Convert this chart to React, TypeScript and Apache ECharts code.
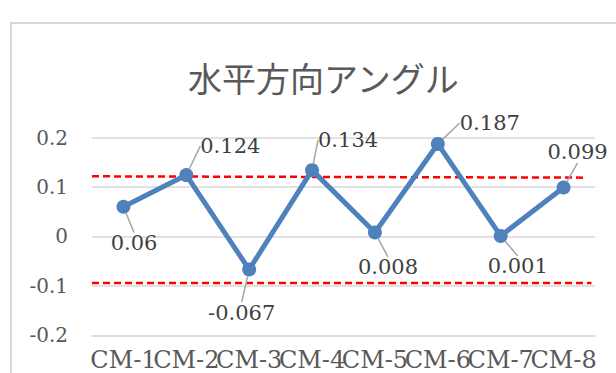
import React, { useEffect, useRef } from "react";
import * as echarts from "echarts";

const categories = ["CM-1", "CM-2", "CM-3", "CM-4", "CM-5", "CM-6", "CM-7", "CM-8"];
const values = [0.06, 0.124, -0.067, 0.134, 0.008, 0.187, 0.001, 0.099];
const upperLimit: [number, number][] = [[0, 0.1215], [0.984, 0.1188]];
const lowerLimit: [number, number][] = [[0, -0.094], [0.993, -0.094]];
const yTicks = { min: -0.2, max: 0.2, interval: 0.1 };
const titleText = "水平方向アングル";

// label offsets (style) relative to each point
const labelDx = [10.6, 44, -7.5, 36, 13, 52, 17, 14];
const labelDy = [36.3, -29, 43, -30, 35, -21, 30.5, -35];

export default function App() {
  const ref = useRef<HTMLDivElement>(null);
  useEffect(() => {
    if (!ref.current) return;
    const chart = echarts.init(ref.current, undefined, { renderer: "svg" });
    const serif = "DejaVu Serif";
    chart.setOption({
      animation: false,
      backgroundColor: "#ffffff",
      title: {
        text: titleText,
        left: 183,
        top: 55,
        textStyle: {
          fontFamily: "Noto Sans CJK JP",
          fontSize: 34,
          fontWeight: "normal",
          color: "#595959",
        },
      },
      graphic: [
        {
          type: "rect",
          shape: { x: 11, y: 23, width: 800, height: 500 },
          style: { fill: "none", stroke: "#d9d9d9", lineWidth: 2 },
          silent: true,
        },
      ],
      grid: { left: 92, right: 21, top: 137.5, bottom: 37.7 },
      xAxis: [
        {
          type: "category",
          data: categories,
          position: "bottom",
          axisLine: { show: true, onZero: false, lineStyle: { color: "#d9d9d9", width: 1.5 } },
          axisTick: { show: false },
          axisLabel: {
            interval: 0,
            margin: 13,
            fontFamily: serif,
            fontSize: 24,
            color: "#595959",
          },
        },
        {
          type: "value",
          min: 0,
          max: 1,
          show: false,
        },
      ],
      yAxis: {
        type: "value",
        min: yTicks.min,
        max: yTicks.max,
        interval: yTicks.interval,
        axisLine: { show: false },
        axisTick: { show: false },
        splitLine: { lineStyle: { color: "#d9d9d9", width: 1.5 } },
        axisLabel: {
          margin: 24,
          fontFamily: serif,
          fontSize: 20,
          color: "#595959",
          formatter: (v: number) => (Math.abs(v) < 1e-9 ? "0" : String(Math.round(v * 10) / 10)),
        },
      },
      series: [
        {
          type: "line",
          xAxisIndex: 1,
          data: upperLimit,
          symbol: "none",
          lineStyle: { color: "#ff0000", width: 2.5, type: [7, 4] },
          z: 3,
          silent: true,
        },
        {
          type: "line",
          xAxisIndex: 1,
          data: lowerLimit,
          symbol: "none",
          lineStyle: { color: "#ff0000", width: 2.5, type: [7, 4] },
          z: 3,
          silent: true,
        },
        {
          type: "line",
          xAxisIndex: 0,
          data: values,
          symbol: "circle",
          symbolSize: 14,
          itemStyle: { color: "#4f81bd" },
          lineStyle: { color: "#4f81bd", width: 5 },
          z: 5,
          label: {
            show: true,
            position: "inside",
            fontFamily: serif,
            fontSize: 21,
            color: "#404040",
            formatter: (p: any) => String(p.value),
          },
          labelLine: {
            show: true,
            lineStyle: { color: "#a6a6a6", width: 1.5 },
          },
          labelLayout: (p: any) => ({
            dx: labelDx[p.dataIndex],
            dy: labelDy[p.dataIndex],
          }),
        },
      ],
    });
    return () => chart.dispose();
  }, []);
  return (
    <div
      ref={ref}
      style={{ position: "fixed", left: 0, top: 0, width: 616, height: 373, background: "#fff" }}
    />
  );
}
